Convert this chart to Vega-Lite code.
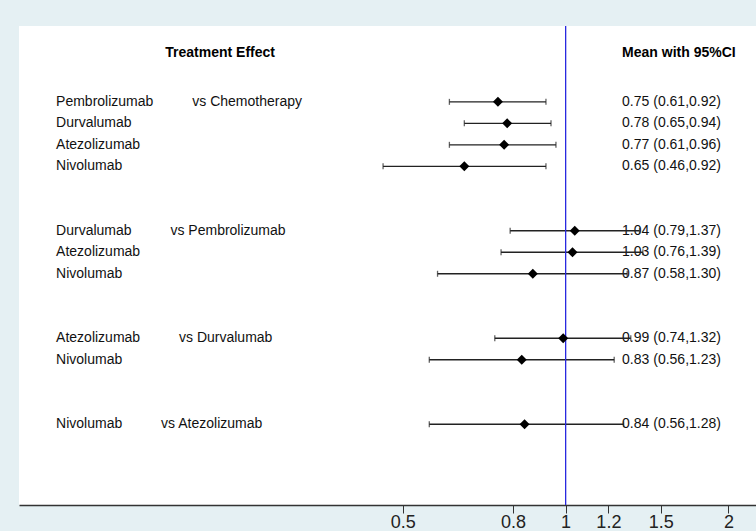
{
  "$schema": "https://vega.github.io/schema/vega-lite/v6.json",
  "width": 756,
  "height": 531,
  "autosize": {"type": "fit", "contains": "padding"},
  "padding": {"left": 19, "top": 25, "right": 0, "bottom": 0},
  "background": "#e5f0f3",
  "config": {
    "view": {"fill": "white", "stroke": null},
    "font": "Liberation Sans"
  },
  "data": {
    "values": [
      {"row": 0, "label": "Pembrolizumab\u00a0\u00a0\u00a0\u00a0\u00a0\u00a0\u00a0\u00a0\u00a0\u00a0vs Chemotherapy", "est": 0.75, "lo": 0.61, "hi": 0.92, "ci": "0.75 (0.61,0.92)"},
      {"row": 1, "label": "Durvalumab", "est": 0.78, "lo": 0.65, "hi": 0.94, "ci": "0.78 (0.65,0.94)"},
      {"row": 2, "label": "Atezolizumab", "est": 0.77, "lo": 0.61, "hi": 0.96, "ci": "0.77 (0.61,0.96)"},
      {"row": 3, "label": "Nivolumab", "est": 0.65, "lo": 0.46, "hi": 0.92, "ci": "0.65 (0.46,0.92)"},
      {"row": 6, "label": "Durvalumab\u00a0\u00a0\u00a0\u00a0\u00a0\u00a0\u00a0\u00a0\u00a0\u00a0vs Pembrolizumab", "est": 1.04, "lo": 0.79, "hi": 1.37, "ci": "1.04 (0.79,1.37)"},
      {"row": 7, "label": "Atezolizumab", "est": 1.03, "lo": 0.76, "hi": 1.39, "ci": "1.03 (0.76,1.39)"},
      {"row": 8, "label": "Nivolumab", "est": 0.87, "lo": 0.58, "hi": 1.30, "ci": "0.87 (0.58,1.30)"},
      {"row": 11, "label": "Atezolizumab\u00a0\u00a0\u00a0\u00a0\u00a0\u00a0\u00a0\u00a0\u00a0\u00a0vs Durvalumab", "est": 0.99, "lo": 0.74, "hi": 1.32, "ci": "0.99 (0.74,1.32)"},
      {"row": 12, "label": "Nivolumab", "est": 0.83, "lo": 0.56, "hi": 1.23, "ci": "0.83 (0.56,1.23)"},
      {"row": 15, "label": "Nivolumab\u00a0\u00a0\u00a0\u00a0\u00a0\u00a0\u00a0\u00a0\u00a0\u00a0vs Atezolizumab", "est": 0.84, "lo": 0.56, "hi": 1.28, "ci": "0.84 (0.56,1.28)"}
    ]
  },
  "layer": [
    {
      "mark": {"type": "text", "align": "left", "baseline": "middle", "fontSize": 14, "color": "#111"},
      "encoding": {
        "x": {"datum": 1.272, "type": "quantitative"},
        "y": {"field": "row", "type": "quantitative", "scale": {"domain": [-3.53, 18.76], "reverse": true, "nice": false, "zero": false}, "axis": null},
        "text": {"field": "ci"}
      }
    },
    {
      "mark": {"type": "rule", "color": "#222222", "strokeWidth": 1.4},
      "encoding": {
        "x": {
          "field": "lo",
          "type": "quantitative",
          "scale": {"type": "log", "domain": [0.0977, 2.249], "nice": false},
          "axis": {
            "values": [0.5, 0.8, 1, 1.2, 1.5, 2],
            "format": "~g",
            "title": null,
            "grid": false,
            "domainColor": "#333333",
            "domainWidth": 1.5,
            "tickColor": "#333333",
            "tickSize": 8,
            "tickWidth": 1,
            "labelFontSize": 18,
            "labelColor": "#222222",
            "labelPadding": 0,
            "labelOverlap": false,
            "labelFlush": false,
            "minExtent": 26,
            "maxExtent": 26
          }
        },
        "x2": {"field": "hi"},
        "y": {"field": "row", "type": "quantitative"}
      }
    },
    {
      "mark": {"type": "tick", "orient": "vertical", "color": "#222222", "size": 6, "thickness": 1.3},
      "encoding": {
        "x": {"field": "lo", "type": "quantitative"},
        "y": {"field": "row", "type": "quantitative"}
      }
    },
    {
      "mark": {"type": "tick", "orient": "vertical", "color": "#222222", "size": 6, "thickness": 1.3},
      "encoding": {
        "x": {"field": "hi", "type": "quantitative"},
        "y": {"field": "row", "type": "quantitative"}
      }
    },
    {
      "mark": {"type": "rule", "color": "#2a2ae0", "strokeWidth": 1},
      "encoding": {"x": {"datum": 1, "type": "quantitative"}}
    },
    {
      "mark": {"type": "point", "shape": "diamond", "filled": true, "color": "#000000", "size": 100, "opacity": 1},
      "encoding": {
        "x": {"field": "est", "type": "quantitative"},
        "y": {"field": "row", "type": "quantitative"}
      }
    },
    {
      "mark": {"type": "text", "align": "left", "baseline": "middle", "fontSize": 14, "color": "#111"},
      "encoding": {
        "x": {"datum": 0.1144, "type": "quantitative"},
        "y": {"field": "row", "type": "quantitative"},
        "text": {"field": "label"}
      }
    },
    {
      "data": {"values": [{"header": "Treatment Effect"}]},
      "mark": {"type": "text", "align": "center", "baseline": "middle", "fontSize": 14, "fontWeight": "bold", "color": "#000"},
      "encoding": {
        "x": {"datum": 0.2299, "type": "quantitative"},
        "y": {"datum": -2.28, "type": "quantitative"},
        "text": {"field": "header"}
      }
    },
    {
      "data": {"values": [{"header": "Mean with 95%CI"}]},
      "mark": {"type": "text", "align": "left", "baseline": "middle", "fontSize": 14, "fontWeight": "bold", "color": "#000"},
      "encoding": {
        "x": {"datum": 1.272, "type": "quantitative"},
        "y": {"datum": -2.28, "type": "quantitative"},
        "text": {"field": "header"}
      }
    }
  ]
}
